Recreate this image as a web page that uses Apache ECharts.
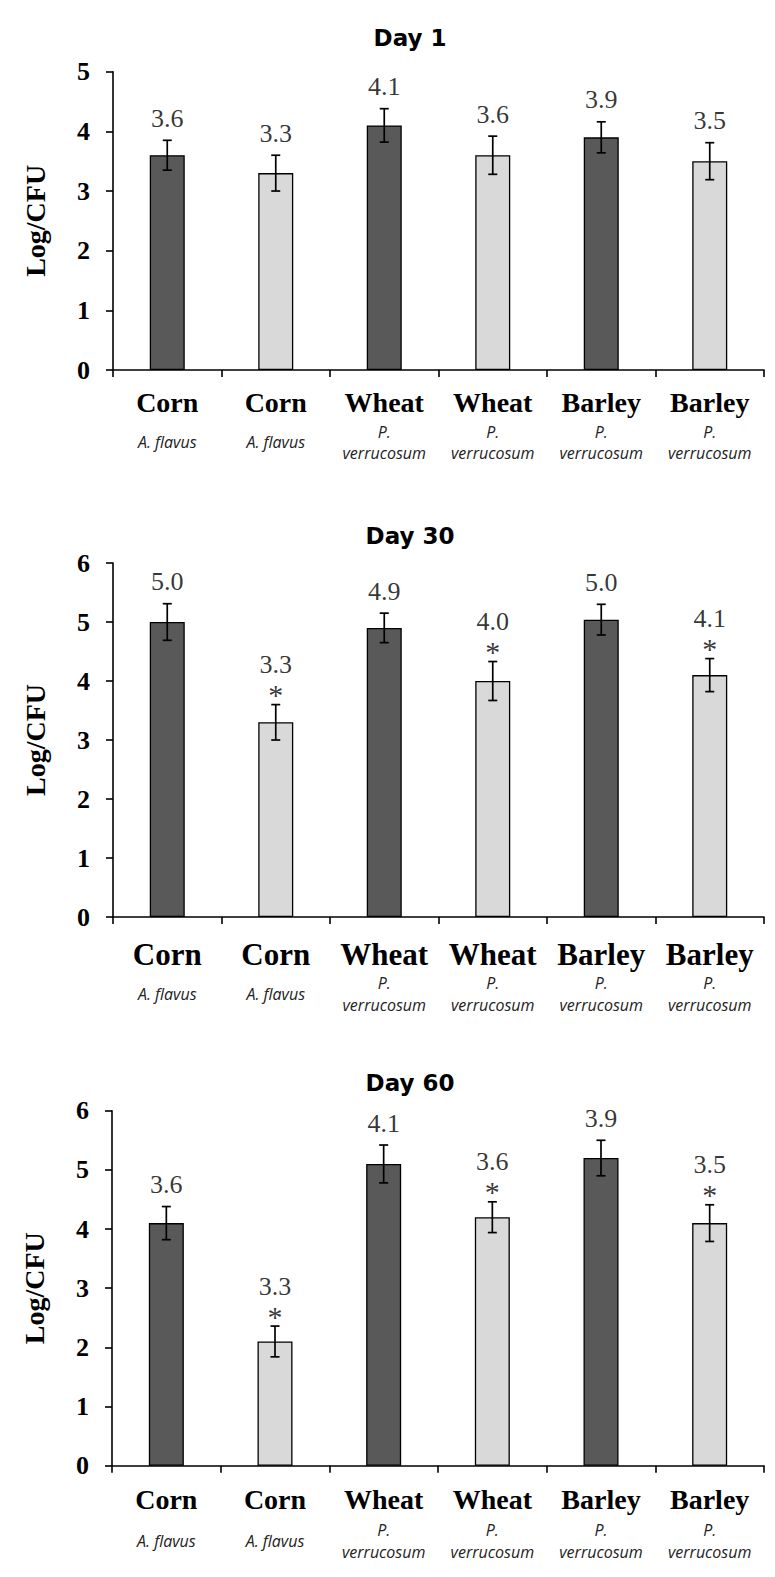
<!DOCTYPE html>
<html>
<head>
<meta charset="utf-8">
<script src="https://cdn.jsdelivr.net/npm/echarts@6/dist/echarts.min.js"></script>
<style>
  html, body { margin: 0; padding: 0; background: #fff; }
  #chart { width: 775px; height: 1577px; }
</style>
</head>
<body>
<div id="chart"></div>
<script>
// ---------- data ----------
const categories = ['Corn', 'Corn', 'Wheat', 'Wheat', 'Barley', 'Barley'];
const species = ['A. flavus', 'A. flavus', 'P. verrucosum', 'P. verrucosum', 'P. verrucosum', 'P. verrucosum'];
const titles = ['Day 1', 'Day 30', 'Day 60'];
const yAxisName = 'Log/CFU';

const day1Values = [3.6, 3.3, 4.1, 3.6, 3.9, 3.5];
const day1Errors = [0.25, 0.30, 0.28, 0.32, 0.26, 0.31];
const day1Labels = ['3.6', '3.3', '4.1', '3.6', '3.9', '3.5'];
const day1Stars = [0, 0, 0, 0, 0, 0];
const day1Max = 5;

const day30Values = [5.0, 3.3, 4.9, 4.0, 5.04, 4.1];
const day30Errors = [0.31, 0.30, 0.25, 0.33, 0.26, 0.28];
const day30Labels = ['5.0', '3.3', '4.9', '4.0', '5.0', '4.1'];
const day30Stars = [0, 1, 0, 1, 0, 1];
const day30Max = 6;

const day60Values = [4.1, 2.1, 5.1, 4.2, 5.2, 4.1];
const day60Errors = [0.28, 0.26, 0.32, 0.26, 0.30, 0.31];
const day60Labels = ['3.6', '3.3', '4.1', '3.6', '3.9', '3.5'];
const day60Stars = [0, 1, 0, 1, 0, 1];
const day60Max = 6;

// ---------- styling / layout ----------
const SERIF = 'Liberation Serif, Times New Roman, serif';
const DARK = '#595959';
const LIGHT = '#d9d9d9';

const panels = [
  { values: day1Values, errors: day1Errors, labels: day1Labels, stars: day1Stars, max: day1Max,
    grid: { left: 113, top: 71.7, width: 651, height: 298.3 }, titleY: 35,
    catSize: 28, rich: { m: 13, h1: 38, h2: 21 } },
  { values: day30Values, errors: day30Errors, labels: day30Labels, stars: day30Stars, max: day30Max,
    grid: { left: 113, top: 563, width: 651, height: 354 }, titleY: 533,
    catSize: 31, rich: { m: 19, h1: 36, h2: 22 } },
  { values: day60Values, errors: day60Errors, labels: day60Labels, stars: day60Stars, max: day60Max,
    grid: { left: 112, top: 1110.7, width: 652, height: 355 }, titleY: 1080,
    catSize: 28, rich: { m: 13.5, h1: 40, h2: 22 } }
];

function catFormatter(value, index) {
  const sp = species[index];
  const parts = sp.split(' ');
  if (sp.length > 10) {
    return '{a|' + value + '}\n{p|' + parts[0] + '}\n{p|' + parts.slice(1).join(' ') + '}';
  }
  return '{a|' + value + '}\n{f|' + sp + '}';
}

function makeErrRender() {
  return function (params, api) {
    const i = api.value(0), v = api.value(1), e = api.value(2);
    const top = api.coord([i, v + e]);
    const bot = api.coord([i, v - e]);
    const x = top[0];
    const ls = { stroke: '#000', lineWidth: 1.7 };
    return { type: 'group', children: [
      { type: 'line', shape: { x1: x, y1: top[1], x2: x, y2: bot[1] }, style: ls },
      { type: 'line', shape: { x1: x - 4.5, y1: top[1], x2: x + 4.5, y2: top[1] }, style: ls },
      { type: 'line', shape: { x1: x - 4.5, y1: bot[1], x2: x + 4.5, y2: bot[1] }, style: ls }
    ] };
  };
}

const option = {
  backgroundColor: '#fff',
  animation: false,
  title: panels.map((p, k) => ({
    text: titles[k], left: 405, top: p.titleY - 14, textAlign: 'center',
    textStyle: { fontFamily: 'DejaVu Sans, Verdana, sans-serif', fontWeight: 'bold', fontSize: 23, color: '#000' }
  })),
  grid: panels.map(p => Object.assign({ containLabel: false }, p.grid)),
  xAxis: panels.map((p, k) => ({
    type: 'category', gridIndex: k, data: categories,
    axisLine: { lineStyle: { color: '#000', width: 1.6 } },
    axisTick: { show: true, length: 7, lineStyle: { color: '#000', width: 1.6 } },
    axisLabel: {
      interval: 0, margin: p.rich.m, formatter: catFormatter, color: '#000',
      rich: {
        a: { fontFamily: SERIF, fontWeight: 'bold', fontSize: p.catSize, lineHeight: p.rich.h1, color: '#000', align: 'center' },
        p: { fontFamily: 'Open Sans, sans-serif', fontStyle: 'italic', fontSize: 16, lineHeight: p.rich.h2, color: '#222', align: 'center' },
        f: { fontFamily: 'Open Sans, sans-serif', fontStyle: 'italic', fontSize: 16, lineHeight: p.rich.h2 * 2, color: '#222', align: 'center' }
      }
    },
    splitLine: { show: false }
  })),
  yAxis: panels.map((p, k) => ({
    type: 'value', gridIndex: k, min: 0, max: p.max, interval: 1,
    name: yAxisName, nameLocation: 'middle', nameRotate: 90, nameGap: 64,
    nameTextStyle: { fontFamily: SERIF, fontWeight: 'bold', fontSize: 28, color: '#000' },
    axisLine: { show: true, lineStyle: { color: '#000', width: 1.6 } },
    axisTick: { show: true, length: 7, lineStyle: { color: '#000', width: 1.6 } },
    axisLabel: { margin: 23, fontFamily: SERIF, fontWeight: 'bold', fontSize: 26, color: '#000' },
    splitLine: { show: false }
  })),
  series: panels.flatMap((p, k) => [
    {
      type: 'bar', xAxisIndex: k, yAxisIndex: k, barWidth: 35,
      data: p.values,
      itemStyle: {
        color: (params) => (params.dataIndex % 2 === 0 ? DARK : LIGHT),
        borderColor: '#000', borderWidth: 1.3
      }
    },
    {
      type: 'custom', xAxisIndex: k, yAxisIndex: k, z: 10,
      encode: { x: 0, y: 1 },
      data: p.values.map((v, i) => [i, v, p.errors[i]]),
      renderItem: makeErrRender()
    },
    {
      type: 'scatter', xAxisIndex: k, yAxisIndex: k, z: 11, silent: true,
      symbolSize: 0,
      data: p.values.map((v, i) => [i, v + p.errors[i]]),
      label: {
        show: true, position: 'top', distance: 2, color: '#000',
        formatter: (params) => p.stars[params.dataIndex]
          ? '{w|' + p.labels[params.dataIndex] + '}\n{s|*}'
          : '{v|' + p.labels[params.dataIndex] + '}',
        rich: {
          v: { fontFamily: SERIF, fontSize: 26, color: '#000', lineHeight: 40, align: 'center' },
          w: { fontFamily: SERIF, fontSize: 26, color: '#000', lineHeight: 44, align: 'center' },
          s: { fontFamily: SERIF, fontSize: 30, color: '#000', lineHeight: 16, align: 'center' }
        }
      }
    }
  ])
};

const chart = echarts.init(document.getElementById('chart'), null, { renderer: 'svg' });
chart.setOption(option);
</script>
</body>
</html>
